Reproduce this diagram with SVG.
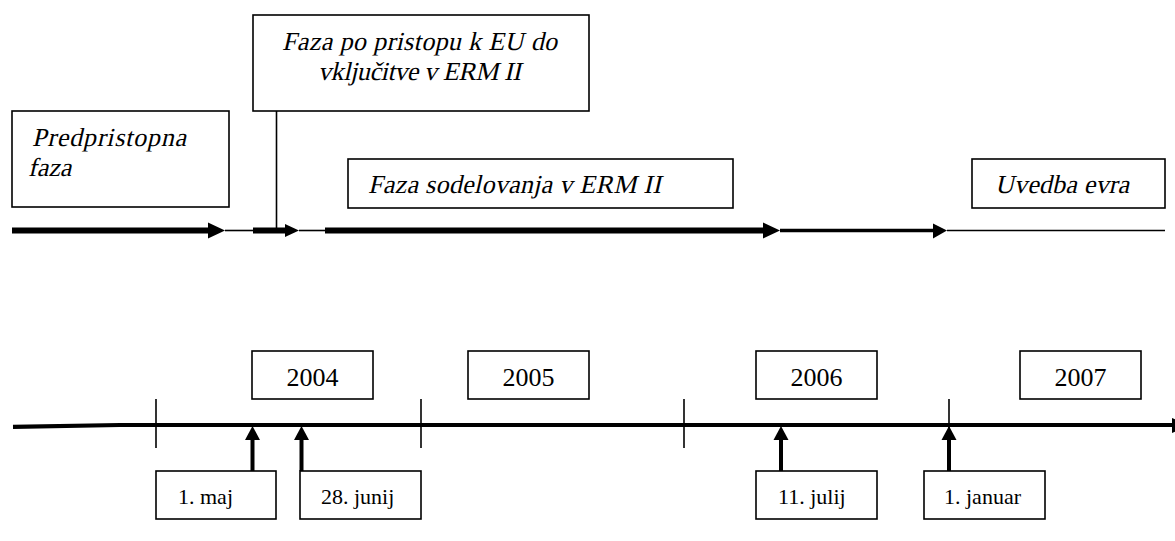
<svg xmlns="http://www.w3.org/2000/svg" width="1175" height="541" viewBox="0 0 1175 541">
<style>
.box{fill:#fff;stroke:#000;stroke-width:1.6}
.it{font-family:"Liberation Serif","Times New Roman",serif;font-size:26px;fill:#000}
.yr{font-family:"Liberation Serif","Times New Roman",serif;font-size:26px;fill:#000;text-anchor:middle}
.dt{font-family:"Liberation Serif","Times New Roman",serif;font-size:22px;fill:#000}
.thin{stroke:#000;stroke-width:1.6;fill:none}
.thick{stroke:#000;stroke-width:6;fill:none}
.med{stroke:#000;stroke-width:3.6;fill:none}
.tick{stroke:#000;stroke-width:1.6}
.shaft{stroke:#000;stroke-width:4}
</style>
<rect width="1175" height="541" fill="#fff"/>
<g id="connectors">
  <line class="thick" x1="12" y1="230.5" x2="210" y2="230.5"/>
  <polygon points="208,222.5 225,230.5 208,238.5"/>
  <line class="thin" x1="225" y1="230.5" x2="253" y2="230.5"/>
  <line class="thick" x1="253" y1="230.5" x2="287" y2="230.5"/>
  <polygon points="285,224 299,230.5 285,237"/>
  <line class="thin" x1="299" y1="230.5" x2="325" y2="230.5"/>
  <line class="thick" x1="325" y1="230.5" x2="765" y2="230.5"/>
  <polygon points="763,222.5 780,230.5 763,238.5"/>
  <line class="med" x1="780" y1="230.5" x2="935" y2="230.5"/>
  <polygon points="933,223.5 947,230.5 933,238.5"/>
  <line class="thin" x1="947" y1="230.5" x2="1165" y2="230.5"/>
  <line class="thin" x1="276.5" y1="111" x2="276.5" y2="230.5"/>
  <polyline points="13,426.8 120,425 1173,425" stroke-width="4.2" fill="none" stroke="#000"/>
  <polygon points="1172,418 1190,425.5 1172,433"/>
  <line class="tick" x1="156" y1="399" x2="156" y2="448"/>
  <line class="tick" x1="421" y1="399" x2="421" y2="448"/>
  <line class="tick" x1="684" y1="399" x2="684" y2="448"/>
  <line class="tick" x1="949" y1="399" x2="949" y2="448"/>
  <line class="shaft" x1="252.5" y1="471" x2="252.5" y2="438"/>
  <polygon points="245,440 252.5,426 260,440"/>
  <line class="shaft" x1="301.5" y1="471" x2="301.5" y2="438"/>
  <polygon points="294,440 301.5,426 309,440"/>
  <line class="shaft" x1="781" y1="471" x2="781" y2="438"/>
  <polygon points="773.5,440 781,426 788.5,440"/>
  <line class="shaft" x1="949" y1="471" x2="949" y2="438"/>
  <polygon points="941.5,440 949,426 956.5,440"/>
</g>
<g id="predpristopna">
  <rect class="box" x="12" y="111" width="217" height="96"/>
  <text class="it" transform="translate(32,146) skewX(-13)" x="0" y="0" textLength="154" lengthAdjust="spacing">Predpristopna</text>
  <text class="it" transform="translate(28,176) skewX(-13)" x="0" y="0">faza</text>
</g>
<g id="po-pristopu">
  <rect class="box" x="253" y="15" width="336" height="96"/>
  <text class="it" transform="translate(282,50) skewX(-13)" x="0" y="0" textLength="275" lengthAdjust="spacing">Faza po pristopu k EU do</text>
  <text class="it" transform="translate(318,80) skewX(-13)" x="0" y="0" textLength="203" lengthAdjust="spacing">vključitve v ERM II</text>
</g>
<g id="sodelovanje">
  <rect class="box" x="348" y="159" width="385" height="49"/>
  <text class="it" transform="translate(368,193) skewX(-13)" x="0" y="0" textLength="293" lengthAdjust="spacing">Faza sodelovanja v ERM II</text>
</g>
<g id="uvedba">
  <rect class="box" x="972" y="159" width="193" height="49"/>
  <text class="it" transform="translate(995,193) skewX(-13)" x="0" y="0" textLength="134" lengthAdjust="spacing">Uvedba evra</text>
</g>
<g id="y2004">
  <rect class="box" x="252" y="351" width="121" height="48"/>
  <text class="yr" x="312.5" y="386">2004</text>
</g>
<g id="y2005">
  <rect class="box" x="468" y="351" width="121" height="48"/>
  <text class="yr" x="528.5" y="386">2005</text>
</g>
<g id="y2006">
  <rect class="box" x="756" y="351" width="121" height="48"/>
  <text class="yr" x="816.5" y="386">2006</text>
</g>
<g id="y2007">
  <rect class="box" x="1020" y="351" width="121" height="48"/>
  <text class="yr" x="1080.5" y="386">2007</text>
</g>
<g id="d-1maj">
  <rect class="box" x="156" y="471" width="120" height="48"/>
  <text class="dt" x="178" y="504">1. maj</text>
</g>
<g id="d-28junij">
  <rect class="box" x="300" y="471" width="121" height="48"/>
  <text class="dt" x="321" y="504">28. junij</text>
</g>
<g id="d-11julij">
  <rect class="box" x="756" y="471" width="121" height="48"/>
  <text class="dt" x="778" y="504">11. julij</text>
</g>
<g id="d-1januar">
  <rect class="box" x="924" y="471" width="121" height="48"/>
  <text class="dt" x="944" y="504">1. januar</text>
</g>
</svg>
